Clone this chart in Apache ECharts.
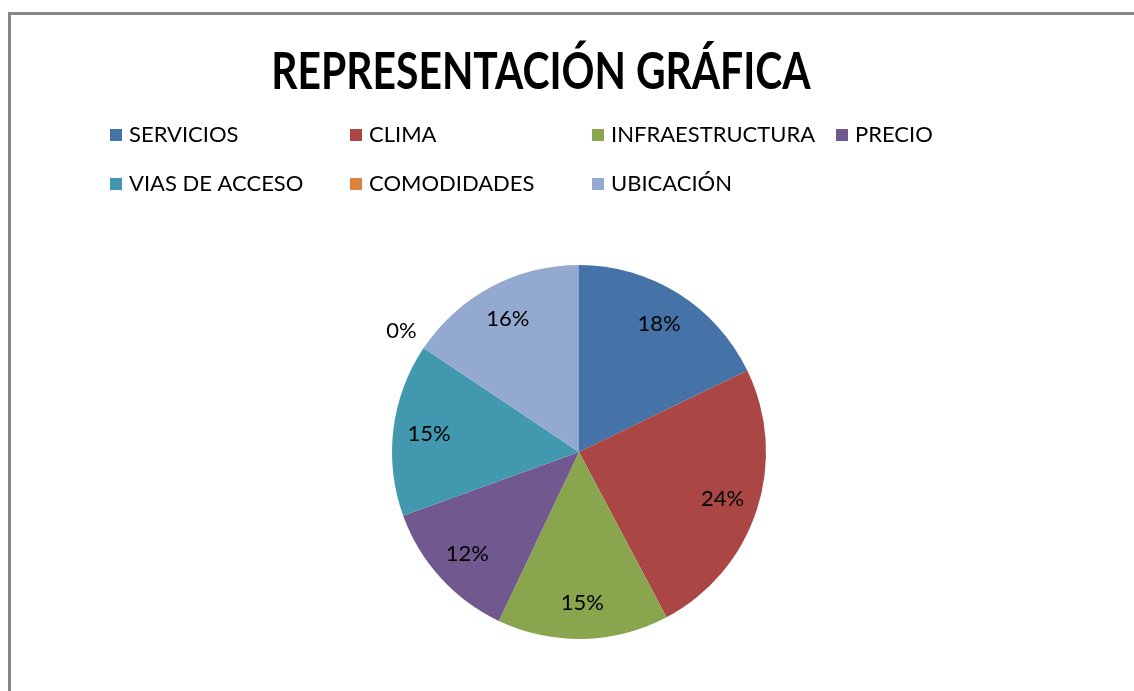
<!DOCTYPE html>
<html>
<head>
<meta charset="utf-8">
<script src="https://cdn.jsdelivr.net/npm/echarts@6/dist/echarts.min.js"></script>
<style>
    html, body { margin: 0; padding: 0; background: #fff; }
    #frame {
        position: absolute; left: 8px; top: 12px; width: 1140px; height: 700px;
        border-left: 3px solid #868686; border-top: 3px solid #868686;
    }
    #chart { position: absolute; left: 0; top: 0; width: 1134px; height: 691px; }
</style>
</head>
<body>
<div id="frame"></div>
<div id="chart"></div>
<script>
    const categories = ['SERVICIOS', 'CLIMA', 'INFRAESTRUCTURA', 'PRECIO', 'VIAS DE ACCESO', 'COMODIDADES', 'UBICACIÓN']
    const values = [17.8, 24.4, 14.8, 12.4, 14.9, 0, 15.6]
    const colors = ['#4572A7', '#AA4643', '#89A54E', '#71588F', '#4198AF', '#DB843D', '#93A9CF']
    // legend laid out as Excel does: columns of (row 1, row 2)
    const legendColumns = [
        ['SERVICIOS', 'VIAS DE ACCESO'],
        ['CLIMA', 'COMODIDADES'],
        ['INFRAESTRUCTURA', 'UBICACIÓN'],
        ['PRECIO']
    ]
    const legendLeft = [110, 350, 592, 836]
    const titleText = 'REPRESENTACIÓN GRÁFICA'

    const FONT = 'Lato'
    const center = [579, 452]
    const pctLabel = p => Math.round(p.percent) + '%'

    const legends = legendColumns.map((col, i) => ({
        left: legendLeft[i],
        top: 123,
        padding: 0,
        orient: 'vertical',
        icon: 'rect',
        itemWidth: 12,
        itemHeight: 12,
        itemGap: 25,
        selectedMode: false,
        textStyle: {fontFamily: FONT, fontSize: 22, lineHeight: 24, color: '#000', padding: [0, 0, 0, 2]},
        data: col
    }))

    const chart = echarts.init(document.getElementById('chart'))
    chart.setOption({
        animation: false,
        color: colors,
        // title drawn as condensed text, Calibri bold is much narrower than the fonts available
        graphic: [{
            type: 'text',
            x: 541,
            y: 72,
            scaleX: 0.785,
            style: {
                text: titleText,
                align: 'center',
                verticalAlign: 'middle',
                fontFamily: FONT,
                fontWeight: 'bold',
                fontSize: 52,
                fill: '#000'
            }
        }],
        legend: legends,
        series: [
            {
                // the pie itself; only the empty slice gets an outside label
                type: 'pie',
                center: center,
                radius: 187,
                startAngle: 90,
                clockwise: true,
                avoidLabelOverlap: false,
                silent: true,
                label: {show: false},
                labelLine: {show: false},
                data: categories.map((name, i) => ({
                    name: name,
                    value: values[i],
                    label: values[i] === 0 ? {
                        show: true, position: 'outside', formatter: pctLabel, distanceToLabelLine: -18,
                        fontFamily: FONT, fontSize: 22, color: '#000'
                    } : {show: false},
                    labelLine: {show: false, length: 30, length2: 0}
                }))
            },
            {
                // transparent ring that places the inside labels at Excel's distance
                type: 'pie',
                center: center,
                radius: [110, 186],
                startAngle: 90,
                clockwise: true,
                silent: true,
                avoidLabelOverlap: false,
                itemStyle: {color: 'rgba(0,0,0,0)'},
                label: {
                    position: 'inside',
                    formatter: pctLabel,
                    fontFamily: FONT, fontSize: 22, color: '#000'
                },
                labelLine: {show: false},
                data: categories.map((name, i) => ({
                    name: name,
                    value: values[i],
                    label: {show: values[i] !== 0}
                }))
            }
        ]
    })
</script>
</body>
</html>
